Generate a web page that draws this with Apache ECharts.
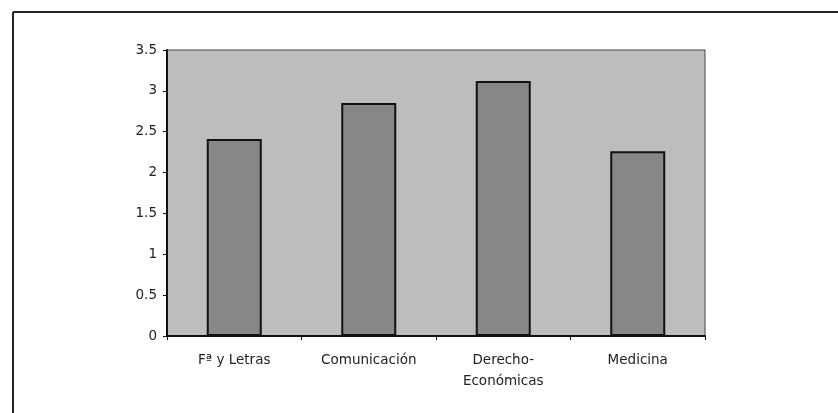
<!DOCTYPE html>
<html><head><meta charset="utf-8">
<script src="https://cdn.jsdelivr.net/npm/echarts@6/dist/echarts.min.js"></script>
<style>html,body{margin:0;padding:0;background:#fff}#c{width:838px;height:413px}</style>
</head><body><div id="c"></div>
<script>
const categories = ['Fª y Letras', 'Comunicación', 'Derecho-\nEconómicas', 'Medicina'];
const values = [2.41, 2.85, 3.12, 2.26];
const yTicks = [0, 0.5, 1, 1.5, 2, 2.5, 3, 3.5];

const chart = echarts.init(document.getElementById('c'), null, {renderer: 'canvas'});
chart.setOption({
  animation: false,
  backgroundColor: '#ffffff',
  graphic: [
    {type: 'line', shape: {x1: 13, y1: 12, x2: 838, y2: 12}, style: {stroke: '#222', lineWidth: 2}, silent: true},
    {type: 'line', shape: {x1: 13, y1: 12, x2: 13, y2: 413}, style: {stroke: '#222', lineWidth: 2}, silent: true}
  ],
  grid: {left: 167, right: 133, top: 50, bottom: 77, show: true, backgroundColor: '#bdbdbd', borderColor: '#444', borderWidth: 1},
  xAxis: {
    type: 'category', data: categories,
    axisLine: {lineStyle: {color: '#111', width: 2}},
    axisTick: {show: true, length: 4, lineStyle: {color: '#111'}},
    axisLabel: {color: '#222', fontFamily: 'DejaVu Sans', fontSize: 13.5, margin: 14, lineHeight: 21}
  },
  yAxis: {
    type: 'value', min: 0, max: 3.5, interval: 0.5,
    axisLine: {show: true, lineStyle: {color: '#111', width: 2}},
    axisTick: {show: true, length: 4, lineStyle: {color: '#111'}},
    splitLine: {show: false},
    axisLabel: {color: '#222', fontFamily: 'DejaVu Sans', fontSize: 13.5, margin: 10,
      formatter: v => yTicks.includes(v) ? String(v) : ''}
  },
  series: [{
    type: 'bar', data: values, barWidth: 55,
    itemStyle: {color: '#878787', borderColor: '#111', borderWidth: 2}
  }]
});
</script></body></html>
